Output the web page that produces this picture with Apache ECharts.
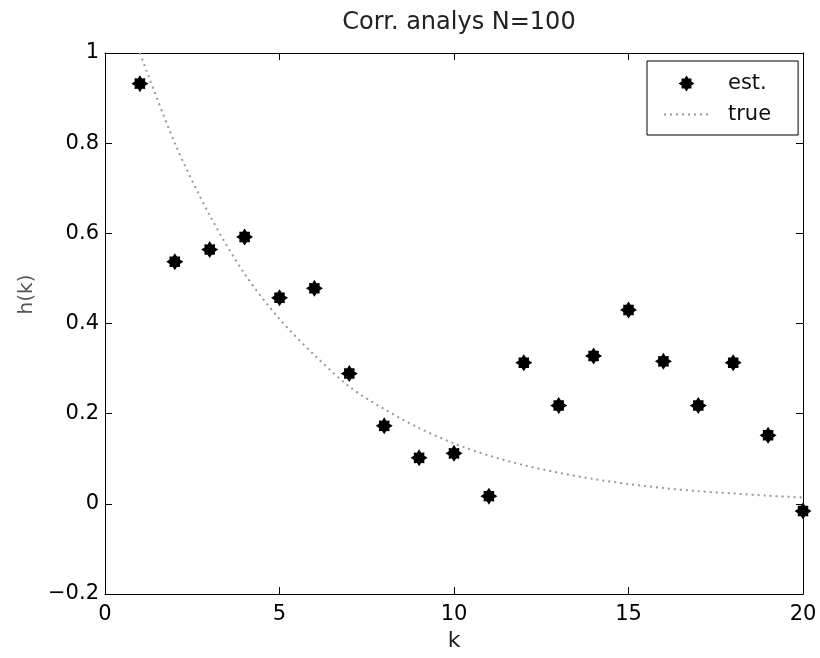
<!DOCTYPE html>
<html>
<head>
<meta charset="utf-8">
<script src="https://cdn.jsdelivr.net/npm/echarts@6/dist/echarts.min.js"></script>
<style>
  html, body { margin: 0; padding: 0; background: #fff; }
  #chart { width: 820px; height: 658px; }
</style>
</head>
<body>
<div id="chart"></div>
<script>
// k = 1..20
const kValues = [1, 2, 3, 4, 5, 6, 7, 8, 9, 10, 11, 12, 13, 14, 15, 16, 17, 18, 19, 20]
// estimated h(k), read off the markers
const estValues = [0.932, 0.537, 0.564, 0.592, 0.457, 0.478, 0.289, 0.173, 0.102, 0.112,
  0.017, 0.313, 0.218, 0.328, 0.430, 0.316, 0.218, 0.313, 0.152, -0.016]
// true h(k)
const trueValues = [1.0, 0.80, 0.64, 0.51, 0.41, 0.33, 0.26, 0.21, 0.168, 0.134,
  0.107, 0.086, 0.069, 0.055, 0.044, 0.035, 0.028, 0.023, 0.018, 0.014]

const xTicks = [0, 5, 10, 15, 20]

const font = 'DejaVu Sans, Liberation Sans, sans-serif'
const star = 'path://M10,5 L8.05,6.26 L8.11,8.11 L6.26,8.05 L5,10 L3.74,8.05 L1.89,8.11 L1.95,6.26 L0,5 L1.95,3.74 L1.89,1.89 L3.74,1.95 L5,0 L6.26,1.95 L8.11,1.89 L8.05,3.74 Z'

function yLabel (v) {
  if (Math.abs(v) < 1e-9) return '0'
  if (Math.abs(v - 1) < 1e-9) return '1'
  return v.toFixed(1).replace('-', '\u2212')
}

const axisLine = { show: true, onZero: false, lineStyle: { color: '#000', width: 1 } }
const axisTick = { show: true, inside: true, length: 7, lineStyle: { color: '#000' } }

const chart = echarts.init(document.getElementById('chart'), null, { renderer: 'canvas' })
chart.setOption({
  animation: false,
  backgroundColor: '#fff',
  textStyle: { fontFamily: font },
  title: {
    text: 'Corr. analys N=100',
    left: 454,
    textAlign: 'center',
    top: 6,
    textStyle: { fontFamily: font, fontSize: 24, fontWeight: 'normal', color: '#222' }
  },
  legend: {
    left: 647,
    top: 61,
    orient: 'vertical',
    align: 'left',
    padding: [12, 27, 10, 16],
    itemGap: 10,
    itemWidth: 45,
    itemHeight: 16,
    borderColor: '#000',
    borderWidth: 1,
    borderRadius: 0,
    backgroundColor: '#fff',
    textStyle: { fontFamily: font, fontSize: 21, color: '#111', padding: [0, 0, 0, 14] },
    data: [{ name: 'est.' }, { name: 'true', itemStyle: { opacity: 0 } }]
  },
  grid: { left: 105, right: 17, top: 53, bottom: 64, containLabel: false },
  xAxis: [
    {
      type: 'value',
      min: 0,
      max: 20,
      interval: 5,
      name: 'k',
      nameLocation: 'middle',
      nameGap: 31,
      nameTextStyle: { fontFamily: font, fontSize: 22, color: '#222' },
      axisLine: axisLine,
      axisTick: axisTick,
      splitLine: { show: false },
      axisLabel: {
        margin: 10,
        fontFamily: font,
        fontSize: 21,
        color: '#000',
        customValues: xTicks
      }
    },
    {
      type: 'value',
      position: 'top',
      min: 0,
      max: 20,
      interval: 5,
      axisLine: axisLine,
      axisTick: axisTick,
      axisLabel: { show: false },
      splitLine: { show: false }
    }
  ],
  yAxis: [
    {
      type: 'value',
      min: -0.2,
      max: 1,
      interval: 0.2,
      name: 'h(k)',
      nameLocation: 'middle',
      nameGap: 56,
      nameTextStyle: { fontFamily: font, fontSize: 20, color: '#555', padding: [0, 0, 0, 58] },
      axisLine: axisLine,
      axisTick: axisTick,
      splitLine: { show: false },
      axisLabel: {
        margin: 6,
        fontFamily: font,
        fontSize: 21,
        color: '#000',
        formatter: yLabel
      }
    },
    {
      type: 'value',
      position: 'right',
      min: -0.2,
      max: 1,
      interval: 0.2,
      axisLine: axisLine,
      axisTick: axisTick,
      axisLabel: { show: false },
      splitLine: { show: false }
    }
  ],
  series: [
    {
      name: 'true',
      type: 'line',
      data: kValues.map((k, i) => [k, trueValues[i]]),
      smooth: 0.3,
      symbol: 'none',
      lineStyle: { color: '#999', width: 2, type: [2, 4] },
      itemStyle: { color: '#999' },
      z: 2
    },
    {
      name: 'est.',
      type: 'scatter',
      data: kValues.map((k, i) => [k, estValues[i]]),
      symbol: star,
      symbolSize: 17,
      itemStyle: { color: '#000', opacity: 1 },
      z: 3
    }
  ]
})
</script>
</body>
</html>
